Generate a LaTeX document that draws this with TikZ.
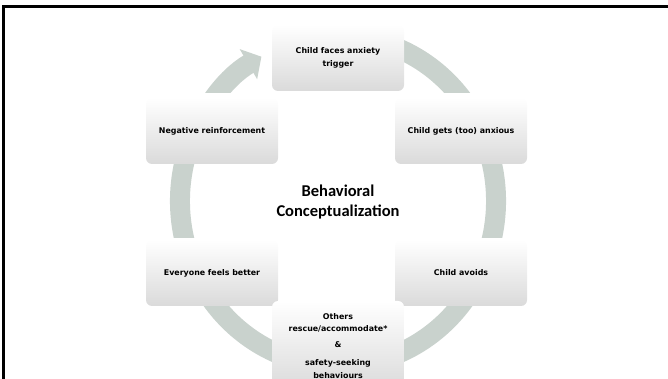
\documentclass[tikz,border=0pt]{standalone}
\usepackage{fontspec}
\setmainfont{DejaVu Sans}
\newfontfamily\titlefont{Carlito}
\usetikzlibrary{positioning,arrows.meta,calc}
\definecolor{ringgray}{RGB}{201,210,205}
\definecolor{boxgray}{RGB}{218,218,218}

\begin{document}
\begin{tikzpicture}[x=1pt,y=1pt]
    \pgfmathsetmacro{\rx}{158}
    \pgfmathsetmacro{\ry}{165}
    \tikzset{
        stage/.style={rounded corners=6pt, minimum width=132pt, minimum height=66pt,
            top color=white, bottom color=boxgray, align=center, inner sep=2pt,
            font=\bfseries\fontsize{7.9}{12.5}\selectfont},
        concept/.style={align=center, font=\titlefont\bfseries\fontsize{16.5}{20}\selectfont},
        ring/.style={draw=ringgray, line width=20pt, -{Triangle[width=34pt,length=15pt]}}
    }
    \useasboundingbox (0,0) rectangle (668,379);
    \draw[line width=3pt] (3,-5) |- (675,372);
    \coordinate (hub) at (338,178);
    % cycle band, cut where it meets the boxes
    \begin{scope}
        \clip (0,286) rectangle (668,379) (0,141) rectangle (668,259) (0,0) rectangle (668,114);
        \draw[ring] ($(hub)+(72:{\rx} and {\ry})$) arc[start angle=72, end angle=-241, x radius=\rx, y radius=\ry];
    \end{scope}
    \node[stage] (trigger) at (338,321) {Child faces anxiety\\trigger};
    \node[stage] (reinforce) at (212,248) {Negative reinforcement};
    \node[stage] (anxious) at (461,248) {Child gets (too) anxious};
    \node[stage] (relief) at (212,106) {Everyone feels better};
    \node[stage] (avoid) at (461,106) {Child avoids};
    \node[stage, minimum height=90pt] (rescue) at (338,33)
        {Others\\rescue/accommodate*\\[3.5pt]\&\\[5.5pt]safety-seeking\\behaviours};
    \node[concept] (concept) at (338,177) {Behavioral\\Conceptualization};
\end{tikzpicture}
\end{document}
